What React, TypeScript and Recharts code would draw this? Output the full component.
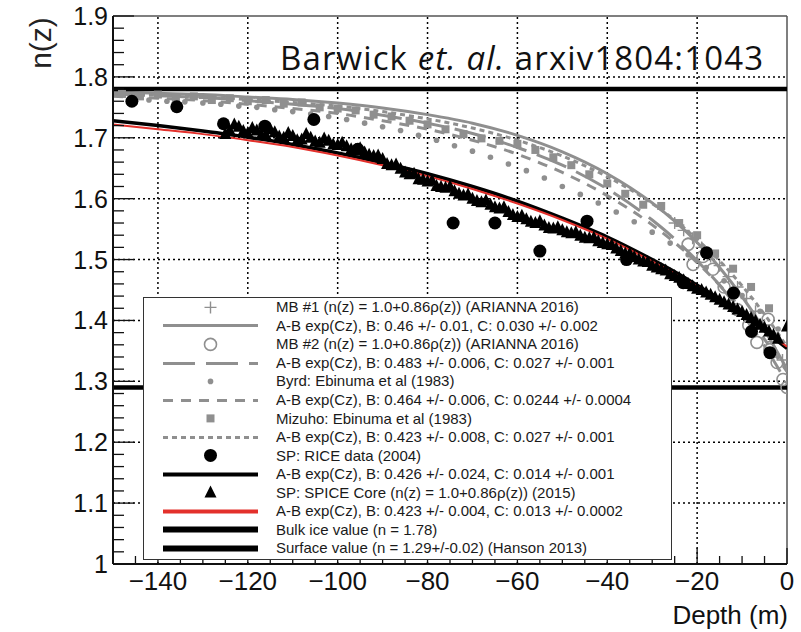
import React from 'react'
import {
  ComposedChart,
  Line,
  Scatter,
  XAxis,
  YAxis,
  ReferenceLine,
  Legend,
  Label,
} from 'recharts'

// n(z) vs depth, South Pole / ARIANNA firn index profiles
const GRAY = '#8f8f8f'
const RED = '#e3302b'
const INK = '#111'
const FONT = '"Liberation Sans", Arial, Helvetica, sans-serif'

// depths (m) where the fitted A-B exp(Cz) curves are sampled
const fitDepths = [-150, -140, -130, -120, -110, -100, -90, -80, -70, -60, -50, -40, -30, -25, -20, -15, -10, -5, 0]
const mb1Fit = [1.775, 1.773, 1.771, 1.767, 1.763, 1.757, 1.749, 1.738, 1.724, 1.704, 1.677, 1.641, 1.593, 1.563, 1.528, 1.487, 1.439, 1.384, 1.32]
const mb2Fit = [1.772, 1.769, 1.766, 1.761, 1.755, 1.748, 1.737, 1.724, 1.707, 1.684, 1.655, 1.616, 1.565, 1.534, 1.498, 1.458, 1.411, 1.358, 1.297]
const byrdFit = [1.768, 1.765, 1.761, 1.755, 1.748, 1.74, 1.728, 1.714, 1.696, 1.673, 1.643, 1.605, 1.557, 1.528, 1.495, 1.458, 1.417, 1.369, 1.316]
const mizuhoFit = [1.773, 1.77, 1.767, 1.763, 1.758, 1.752, 1.743, 1.731, 1.716, 1.696, 1.67, 1.636, 1.592, 1.565, 1.533, 1.498, 1.457, 1.41, 1.357]
const riceFit = [1.728, 1.72, 1.711, 1.701, 1.689, 1.675, 1.659, 1.641, 1.62, 1.596, 1.568, 1.537, 1.5, 1.48, 1.458, 1.435, 1.41, 1.383, 1.354]
const spiceFit = [1.722, 1.714, 1.706, 1.696, 1.685, 1.671, 1.655, 1.637, 1.616, 1.592, 1.565, 1.534, 1.497, 1.477, 1.456, 1.434, 1.41, 1.384, 1.357]

// measured points
const mb1Depth = [-25, -23, -21, -19, -17, -15, -13, -11, -9, -7, -5, -3, -1]
const mb1N = [1.56, 1.548, 1.535, 1.52, 1.505, 1.49, 1.472, 1.455, 1.436, 1.415, 1.392, 1.365, 1.335]

const mb2Depth = [-22, -20.9, -18.7, -16.5, -14, -11.1, -8.5, -6.7, -4.2, -3.8, -2.2, -0.9, 0]
const mb2N = [1.525, 1.492, 1.505, 1.484, 1.455, 1.418, 1.392, 1.364, 1.402, 1.352, 1.331, 1.303, 1.29]

const byrdDepth = [-146, -142, -138, -134, -130, -126, -122, -118, -114, -110, -106, -102, -98, -94, -90, -86, -82, -78, -74, -70, -66, -62, -58, -54, -50, -46, -42, -38, -34, -30, -26, -22, -18, -14, -10, -6, -2]
const byrdN = [1.764, 1.762, 1.76, 1.759, 1.757, 1.755, 1.752, 1.75, 1.746, 1.743, 1.739, 1.735, 1.73, 1.724, 1.718, 1.712, 1.704, 1.696, 1.687, 1.678, 1.668, 1.657, 1.646, 1.634, 1.62, 1.607, 1.593, 1.578, 1.562, 1.545, 1.527, 1.508, 1.487, 1.465, 1.441, 1.415, 1.386]

const mizuhoDepth = [-148, -144, -140, -136, -132, -128, -124, -120, -116, -112, -108, -104, -100, -96, -92, -88, -84, -80, -76, -72, -68, -64, -60, -56, -52, -48, -44, -40, -36, -32, -28, -24, -20, -16, -12, -8, -4]
const mizuhoN = [1.772, 1.768, 1.771, 1.765, 1.768, 1.762, 1.765, 1.76, 1.762, 1.756, 1.758, 1.75, 1.748, 1.745, 1.738, 1.735, 1.728, 1.722, 1.714, 1.706, 1.699, 1.695, 1.69, 1.68, 1.668, 1.655, 1.64, 1.625, 1.608, 1.59, 1.588, 1.56, 1.54, 1.51, 1.485, 1.455, 1.42]

const riceDepth = [-145.8, -135.8, -125.4, -116.2, -105.3, -95.5, -74.3, -65, -55, -44.5, -35.7, -23.1, -17.9, -11.9, -7.9, -3.8]
const riceN = [1.76, 1.751, 1.723, 1.719, 1.73, 1.681, 1.56, 1.56, 1.514, 1.563, 1.5, 1.462, 1.511, 1.445, 1.382, 1.347]

const spiceDepth = [
  -125, -124, -123, -122, -121, -120, -119, -118, -117, -116, -115, -114, -113, -112, -111, -110, -109, -108, -107, -106,
  -105, -104, -103, -102, -101, -100, -99, -98, -97, -96, -95, -94, -93, -92, -91, -90, -89, -88, -87, -86,
  -85, -84, -83, -82, -81, -80, -79, -78, -77, -76, -75, -74, -73, -72, -71, -70, -69, -68, -67, -66,
  -65, -64, -63, -62, -61, -60, -59, -58, -57, -56, -55, -54, -53, -52, -51, -50, -49, -48, -47, -46,
  -45, -44, -43, -42, -41, -40, -39, -38, -37, -36, -35, -34, -33, -32, -31, -30, -29, -28, -27, -26,
  -25, -24, -23, -22, -21, -20, -19, -18, -17, -16, -15, -14, -13, -12, -11, -10, -9, -8, -7, -6,
  -5, -4, -3, -2, 0,
]
const spiceN = [
  1.706, 1.712, 1.722, 1.718, 1.711, 1.708, 1.716, 1.712, 1.704, 1.705, 1.714, 1.709, 1.702, 1.7, 1.708, 1.703, 1.696, 1.697, 1.706, 1.7,
  1.694, 1.692, 1.699, 1.695, 1.689, 1.688, 1.692, 1.686, 1.681, 1.68, 1.683, 1.676, 1.672, 1.67, 1.671, 1.665, 1.657, 1.655, 1.656, 1.649,
  1.643, 1.64, 1.641, 1.632, 1.631, 1.628, 1.63, 1.621, 1.619, 1.618, 1.62, 1.612, 1.608, 1.605, 1.607, 1.6, 1.596, 1.594, 1.597, 1.59,
  1.586, 1.584, 1.586, 1.578, 1.573, 1.57, 1.572, 1.566, 1.562, 1.56, 1.563, 1.556, 1.552, 1.551, 1.553, 1.548, 1.545, 1.543, 1.545, 1.539,
  1.536, 1.535, 1.536, 1.53, 1.527, 1.525, 1.524, 1.518, 1.514, 1.51, 1.51, 1.504, 1.5, 1.497, 1.496, 1.49, 1.487, 1.484, 1.482, 1.476,
  1.473, 1.47, 1.466, 1.46, 1.456, 1.452, 1.45, 1.446, 1.442, 1.438, 1.434, 1.43, 1.426, 1.422, 1.418, 1.414, 1.409, 1.404, 1.399, 1.393,
  1.388, 1.382, 1.376, 1.37, 1.39,
]

const bulkIce = 1.78
const surfaceValue = 1.29

// axes
const xMajorTicks = [-140, -120, -100, -80, -60, -40, -20, 0]
const yMajorTicks = [1.1, 1.2, 1.3, 1.4, 1.5, 1.6, 1.7, 1.8]
const xAllTicks = Array.from({ length: 31 }, (_, i) => -150 + i * 5)
const yAllTicks = Array.from({ length: 46 }, (_, i) => Math.round((1 + i * 0.02) * 100) / 100)

const legendLabels = [
  'MB #1 (n(z) = 1.0+0.86\u03c1(z)) (ARIANNA 2016)',
  'A-B exp(Cz), B: 0.46 +/- 0.01, C: 0.030 +/- 0.002',
  'MB #2 (n(z) = 1.0+0.86\u03c1(z)) (ARIANNA 2016)',
  'A-B exp(Cz), B: 0.483 +/- 0.006, C: 0.027 +/- 0.001',
  'Byrd: Ebinuma et al (1983)',
  'A-B exp(Cz), B: 0.464 +/- 0.006, C: 0.0244 +/- 0.0004',
  'Mizuho: Ebinuma et al (1983)',
  'A-B exp(Cz), B: 0.423 +/- 0.008, C: 0.027 +/- 0.001',
  'SP: RICE data (2004)',
  'A-B exp(Cz), B: 0.426 +/- 0.024, C: 0.014 +/- 0.001',
  'SP: SPICE Core (n(z) = 1.0+0.86\u03c1(z)) (2015)',
  'A-B exp(Cz), B: 0.423 +/- 0.004, C: 0.013 +/- 0.0002',
  'Bulk ice value (n = 1.78)',
  'Surface value (n = 1.29+/-0.02) (Hanson 2013)',
]
const legendKinds = ['plus', 'solid', 'ring', 'long', 'dot', 'dash', 'square', 'dotted', 'disc', 'black', 'tri', 'red', 'thick', 'thick']

const zip = (xs: number[], ys: number[]) => xs.map((x, i) => ({ x, y: ys[i] }))

const DASH = { long: '32 11', dash: '10 8', dotted: '5 4' }

// marker shapes
const plusShape = (p: any) => (
  <path d={`M${p.cx - 6},${p.cy}h12M${p.cx},${p.cy - 6}v12`} stroke={GRAY} strokeWidth={1.4} fill="none" />
)
const ringShape = (p: any) => <circle cx={p.cx} cy={p.cy} r={6} fill="none" stroke={GRAY} strokeWidth={1.6} />
const dotShape = (p: any) => <circle cx={p.cx} cy={p.cy} r={2.8} fill={GRAY} />
const squareShape = (p: any) => <rect x={p.cx - 4} y={p.cy - 4} width={8} height={8} fill={GRAY} />
const discShape = (p: any) => <circle cx={p.cx} cy={p.cy} r={6.5} fill="#000" />
const triShape = (p: any) => (
  <polygon points={`${p.cx},${p.cy - 7} ${p.cx - 6},${p.cy + 5} ${p.cx + 6},${p.cy + 5}`} fill="#000" />
)

function XTick({ x, y, payload }: any) {
  const v = payload.value
  const major = v % 20 === 0
  return (
    <g>
      <line x1={x} x2={x} y1={y} y2={y - (major ? 16 : 8)} stroke={INK} strokeWidth={1.3} />
      {major && (
        <text x={x} y={y + 26} textAnchor="middle" fontFamily={FONT} fontSize={26} fill={INK}>
          {v === 0 ? '0' : '\u2212' + Math.abs(v)}
        </text>
      )}
    </g>
  )
}

function YTick({ x, y, payload }: any) {
  const v = payload.value
  const major = Math.round(v * 100) % 10 === 0
  return (
    <g>
      <line x1={x} x2={x + (major ? 21 : 11)} y1={y} y2={y} stroke={INK} strokeWidth={1.3} />
      {major && (
        <text x={x - 5} y={y + 9} textAnchor="end" fontFamily={FONT} fontSize={25} fill={INK}>
          {String(Math.round(v * 10) / 10)}
        </text>
      )}
    </g>
  )
}

function LegendSymbol({ kind }: { kind: string }) {
  const w = 95
  const h = 18.8
  const c = w / 2
  const m = h / 2
  let el: React.ReactNode = null
  if (kind === 'plus') el = plusShape({ cx: c, cy: m })
  else if (kind === 'ring') el = ringShape({ cx: c, cy: m })
  else if (kind === 'dot') el = dotShape({ cx: c, cy: m })
  else if (kind === 'square') el = squareShape({ cx: c, cy: m })
  else if (kind === 'disc') el = discShape({ cx: c, cy: m })
  else if (kind === 'tri') el = triShape({ cx: c, cy: m })
  else {
    const stroke = kind === 'red' ? RED : kind === 'black' || kind === 'thick' ? '#000' : GRAY
    const sw = kind === 'thick' ? 6 : kind === 'black' || kind === 'red' ? 4 : 3
    const dash = kind === 'long' ? DASH.long : kind === 'dash' ? DASH.dash : kind === 'dotted' ? DASH.dotted : undefined
    el = <line x1={0} x2={w} y1={m} y2={m} stroke={stroke} strokeWidth={sw} strokeDasharray={dash} />
  }
  return (
    <svg width={w} height={h} style={{ flex: 'none', marginLeft: 19, display: 'block' }}>
      {el}
    </svg>
  )
}

function LegendBox() {
  return (
    <div
      style={{
        width: 529,
        height: 263,
        boxSizing: 'border-box',
        border: '1.5px solid #333',
        background: '#fff',
        fontFamily: FONT,
        fontSize: 15,
        color: '#1a1a1a',
      }}
    >
      {legendLabels.map((label, i) => (
        <div key={label + i} style={{ display: 'flex', alignItems: 'center', height: 18.55 }}>
          <LegendSymbol kind={legendKinds[i]} />
          <span style={{ marginLeft: 18, whiteSpace: 'nowrap', lineHeight: '18px' }}>{label}</span>
        </div>
      ))}
    </div>
  )
}

export default function App() {
  return (
    <div style={{ position: 'fixed', left: 0, top: 0, width: 801, height: 632, background: '#fff' }}>
      <ComposedChart width={801} height={632} margin={{ top: 16, right: 14, bottom: 0, left: 0 }}>
        <XAxis
          type="number"
          dataKey="x"
          domain={[-150, 0]}
          ticks={xAllTicks}
          interval={0}
          allowDataOverflow
          tickLine={false}
          tickSize={0}
          tickMargin={0}
          tick={(p: any) => <XTick {...p} />}
          axisLine={{ stroke: INK, strokeWidth: 2 }}
          height={68}
        >
          <Label
            content={() => (
              <text x={788} y={624} textAnchor="end" fontFamily={FONT} fontSize={26} fill={INK}>
                Depth (m)
              </text>
            )}
          />
        </XAxis>
        <YAxis
          type="number"
          dataKey="y"
          domain={[1, 1.9]}
          ticks={yAllTicks}
          interval={0}
          allowDataOverflow
          tickLine={false}
          tickSize={0}
          tickMargin={0}
          tick={(p: any) => <YTick {...p} />}
          axisLine={{ stroke: INK, strokeWidth: 2 }}
          width={113}
        >
          <Label
            content={() => (
              <text
                x={40}
                y={43}
                transform="rotate(-90 40 43)"
                textAnchor="middle"
                dominantBaseline="central"
                fontFamily={FONT}
                fontSize={30}
                fill="#222"
              >
                n(z)
              </text>
            )}
          />
        </YAxis>

        {xMajorTicks.filter((v) => v !== 0).map((v) => (
          <ReferenceLine key={'gx' + v} x={v} stroke="#000" strokeWidth={1.5} strokeDasharray="2 3" />
        ))}
        {yMajorTicks.map((v) => (
          <ReferenceLine key={'gy' + v} y={v} stroke="#000" strokeWidth={1.5} strokeDasharray="2 3" />
        ))}
        <ReferenceLine y={1.9} stroke="#555" strokeWidth={1.5} />
        <ReferenceLine x={0} stroke="#555" strokeWidth={1.5} />

        <Scatter data={zip(mizuhoDepth, mizuhoN)} dataKey="y" shape={squareShape} isAnimationActive={false} />
        <Scatter data={zip(byrdDepth, byrdN)} dataKey="y" shape={dotShape} isAnimationActive={false} />
        <Scatter data={zip(mb1Depth, mb1N)} dataKey="y" shape={plusShape} isAnimationActive={false} />
        <Scatter data={zip(mb2Depth, mb2N)} dataKey="y" shape={ringShape} isAnimationActive={false} />

        <Line data={zip(fitDepths, mb1Fit)} dataKey="y" type="monotone" stroke={GRAY} strokeWidth={3} dot={false} isAnimationActive={false} />
        <Line data={zip(fitDepths, mb2Fit)} dataKey="y" type="monotone" stroke={GRAY} strokeWidth={3} strokeDasharray={DASH.long} dot={false} isAnimationActive={false} />
        <Line data={zip(fitDepths, byrdFit)} dataKey="y" type="monotone" stroke={GRAY} strokeWidth={3} strokeDasharray={DASH.dash} dot={false} isAnimationActive={false} />
        <Line data={zip(fitDepths, mizuhoFit)} dataKey="y" type="monotone" stroke={GRAY} strokeWidth={3} strokeDasharray={DASH.dotted} dot={false} isAnimationActive={false} />

        <Scatter data={zip(riceDepth, riceN)} dataKey="y" shape={discShape} isAnimationActive={false} />
        <Scatter data={zip(spiceDepth, spiceN)} dataKey="y" shape={triShape} isAnimationActive={false} />

        <Line data={zip(fitDepths, riceFit)} dataKey="y" type="monotone" stroke="#000" strokeWidth={3.5} dot={false} isAnimationActive={false} />
        <Line data={zip(fitDepths, spiceFit)} dataKey="y" type="monotone" stroke={RED} strokeWidth={2} dot={false} isAnimationActive={false} />

        <ReferenceLine y={bulkIce} stroke="#000" strokeWidth={4.5} />
        <ReferenceLine y={surfaceValue} stroke="#000" strokeWidth={4.5} />

        <Legend
          layout="horizontal"
          verticalAlign="middle"
          align="center"
          content={() => <LegendBox />}
          wrapperStyle={{ left: 143, top: 297, width: 529, height: 263 }}
        />
      </ComposedChart>
      <svg width={801} height={632} style={{ position: 'absolute', left: 0, top: 0, pointerEvents: 'none' }}>
        <text x={280} y={70} fontFamily='"Open Sans", "Noto Sans", sans-serif' fontSize={33} fill="#111" textLength={483} lengthAdjust="spacing">
          Barwick <tspan fontStyle="italic">et. al.</tspan> arxiv1804:1043
        </text>
      </svg>
    </div>
  )
}
